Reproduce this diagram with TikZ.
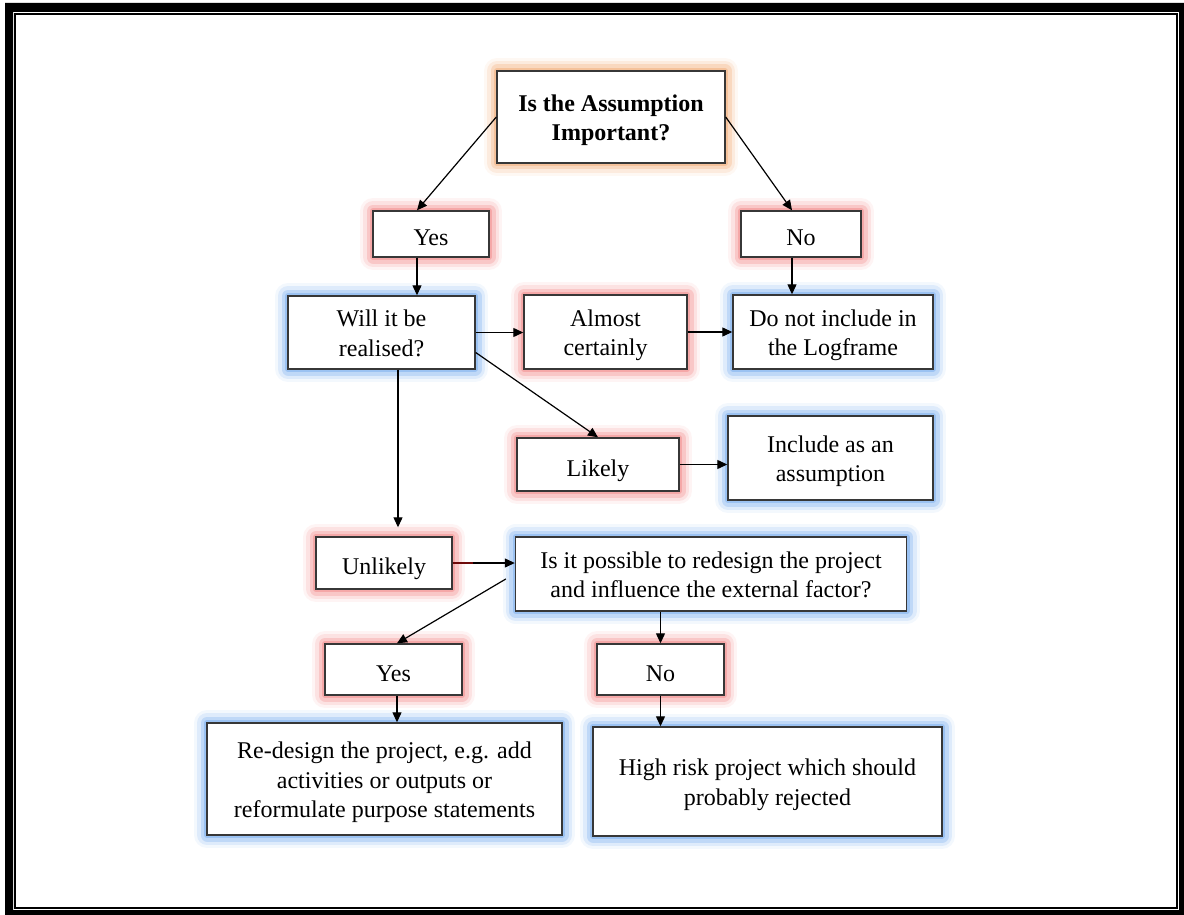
\documentclass[tikz,border=0pt]{standalone}
\usepackage{fontspec}
\setmainfont{Liberation Serif}
\usetikzlibrary{arrows.meta}

\definecolor{glowred}{RGB}{240,120,120}
\definecolor{glowblue}{RGB}{100,160,235}
\definecolor{glowora}{RGB}{240,160,100}
\definecolor{boxline}{RGB}{55,55,55}
\definecolor{darkred}{RGB}{110,10,10}

% strut for the first line of a two or three line box
\newcommand{\tallstrut}{\rule{0pt}{24pt}}

\begin{document}
\begin{tikzpicture}[x=1pt,y=-1pt,
  box/.style={draw=boxline,line width=1.4pt,fill=white,align=center,inner sep=0pt,
    font=\fontsize{24}{29.5}\selectfont,
    execute at begin node={\rule{0pt}{29pt}},
    execute at end node={\rule[-6pt]{0pt}{0pt}}},
  glow/.style={preaction={draw=#1,line width=26pt,opacity=.08,line join=round},
    preaction={draw=#1,line width=20pt,opacity=.15,line join=round},
    preaction={draw=#1,line width=13pt,opacity=.25,line join=round},
    preaction={draw=#1,line width=6pt,opacity=.4,line join=round}},
  redbox/.style={box,glow=glowred},
  bluebox/.style={box,glow=glowblue},
  arr/.style={-{Triangle[length=10pt,width=9pt]},line width=1.2pt}]

  \useasboundingbox (0,0) rectangle (1184,915);

  % Draw the page border
  \fill[even odd rule] (5,3) rectangle (1184,915) (13,12) rectangle (1179,910);
  \draw[line width=2pt] (15,14) rectangle (1176.5,907.5);

  % Draw the question at the top
  \node[box,glow=glowora,minimum width=228,minimum height=92,
    font=\fontsize{24}{29.5}\selectfont\bfseries] (imp) at (611,117) {\tallstrut Is the Assumption\\Important?};

  % Draw the answers
  \node[redbox,minimum width=116,minimum height=46] (yes1) at (431,234) {Yes};
  \node[redbox,minimum width=120,minimum height=46] (no1) at (801,234) {No};

  % Draw the second row
  \node[bluebox,minimum width=187,minimum height=73] (will) at (381.5,332.5) {\tallstrut Will it be\\realised?};
  \node[redbox,minimum width=163,minimum height=74] (almost) at (605.5,332) {\tallstrut Almost\\certainly};
  \node[bluebox,minimum width=200,minimum height=74] (donot) at (833,332) {\tallstrut Do not include in\\the Logframe};

  % Draw the likely case
  \node[redbox,minimum width=162,minimum height=53] (likely) at (598,464.5) {Likely};
  \node[bluebox,minimum width=205,minimum height=84] (incl) at (830.5,458) {\tallstrut Include as an\\assumption};

  % Draw the unlikely case
  \node[redbox,minimum width=136,minimum height=52] (unlikely) at (384,563) {Unlikely};
  \node[bluebox,minimum width=391,minimum height=74] (possible) at (711,574)
    {\tallstrut Is it possible to redesign the project\\and influence the external factor?};

  % Draw the last answers
  \node[redbox,minimum width=137,minimum height=51] (yes2) at (393.5,669.5) {Yes};
  \node[redbox,minimum width=127,minimum height=51] (no2) at (660.5,669.5) {No};
  \node[bluebox,minimum width=355,minimum height=112] (redesign) at (384.5,779)
    {\tallstrut Re-design the project, e.g. add\\activities or outputs or\\reformulate purpose statements};
  \node[bluebox,minimum width=349,minimum height=109] (highrisk) at (767.5,781.5)
    {\tallstrut High risk project which should\\probably rejected};

  % Draw the arrows
  \draw[arr] (imp.west) -- ([xshift=-14pt]yes1.north);
  \draw[arr] (imp.east) -- ([xshift=-9pt]no1.north);
  \draw[arr] ([xshift=-14pt]yes1.south) -- ([xshift=-14pt]yes1.south |- will.north);
  \draw[arr] ([xshift=-9pt]no1.south) -- ([xshift=-9pt]no1.south |- donot.north);
  \draw[arr] (will.east) -- (will.east -| almost.west);
  \draw[arr] (almost.east) -- (almost.east -| donot.west);
  \draw[arr] ([yshift=-20pt]will.east) -- (likely.north);
  \draw[arr] (likely.east) -- (likely.east -| incl.west);
  \draw[arr,shorten >=9pt] ([xshift=16.5pt]will.south) -- ([xshift=16.5pt]will.south |- unlikely.north);
  \draw[arr] (unlikely.east) -- (unlikely.east -| possible.west);
  \draw[darkred,line width=2.4pt] (unlikely.east) -- ++(20,0);
  \draw[arr] ([xshift=-9pt,yshift=-5pt]possible.west) -- ([xshift=3.5pt]yes2.north);
  \draw[arr] (no2.north |- possible.south) -- (no2.north);
  \draw[arr] ([xshift=3.5pt]yes2.south) -- ([xshift=3.5pt]yes2.south |- redesign.north);
  \draw[arr] (no2.south) -- (no2.south |- highrisk.north);
\end{tikzpicture}
\end{document}
